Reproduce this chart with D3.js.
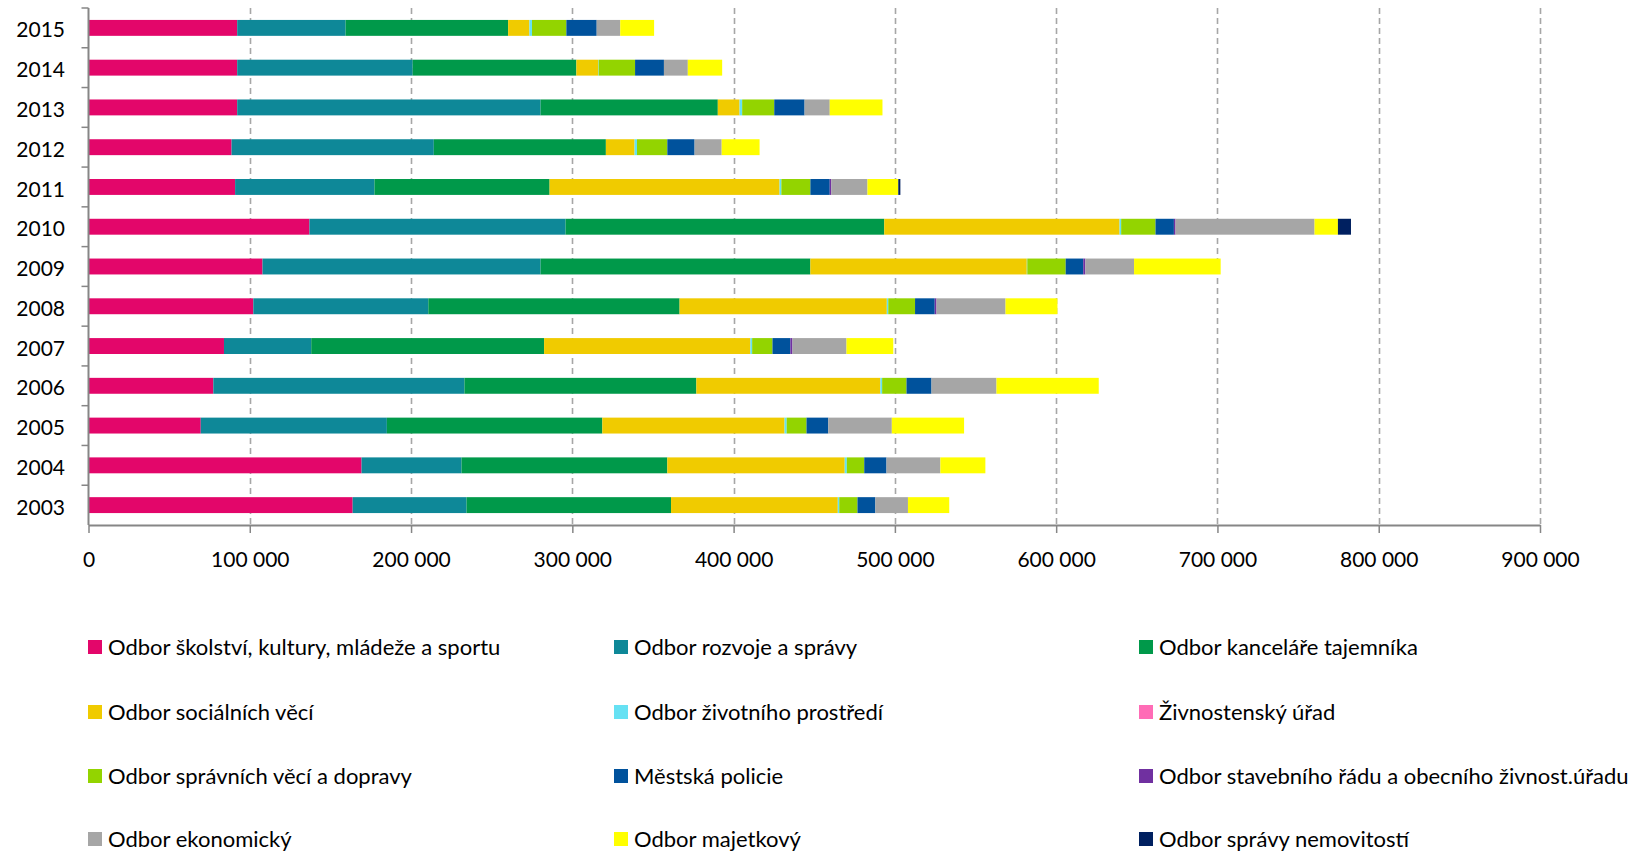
<!DOCTYPE html>
<html><head><meta charset="utf-8">
<script src="https://cdn.jsdelivr.net/npm/d3@7"></script>
<style>
html,body{margin:0;padding:0;background:#fff;}
text{font-family:Lato,"Open Sans",sans-serif;fill:#000;}
</style></head>
<body>
<svg id="chart" width="1639" height="853"></svg>
<script>
// Years, top to bottom
const years = ["2015","2014","2013","2012","2011","2010","2009","2008","2007","2006","2005","2004","2003"];
const seriesNames = [
  "Odbor školství, kultury, mládeže a sportu",
  "Odbor rozvoje a správy",
  "Odbor kanceláře tajemníka",
  "Odbor sociálních věcí",
  "Odbor životního prostředí",
  "Živnostenský úřad",
  "Odbor správních věcí a dopravy",
  "Městská policie",
  "Odbor stavebního řádu a obecního živnost.úřadu",
  "Odbor ekonomický",
  "Odbor majetkový",
  "Odbor správy nemovitostí"
];
const seriesColors = ["#E3066A","#0E8898","#00994A","#F0CB00","#66E1F3","#FF6CB6","#93D400","#00529C","#7030A0","#A6A6A6","#FFFF00","#002060"];
// values per series, in the order of `years`
const skolstvi    = [92200, 92200, 92200, 88700, 90900,137000,107900,102200, 84000, 77400, 69600,169300,163800];
const rozvoje     = [67200,108800,188100,125400, 86400,158800,172400,108500, 54100,155700,115400, 62000, 70600];
const kancelare   = [100800,101500,109900,106700,108600,197600,167300,155800,144400,143800,133600,127600,126800];
const socialni    = [13200, 13500, 13500, 17800,142600,145900,134200,128500,127900,114100,113000,110000,103400];
const zivotni     = [1600,   300,  1600,  1500,  1100,  1000,   300,   900,  1100,  1100,  1300,  1300,   900];
const zivnostensky= [0,        0,     0,     0,     0,     0,     0,     0,     0,     0,     0,     0,     0];
const spravni     = [21300, 22600, 19900, 18800, 18000, 21300, 23800, 16600, 12600, 15100, 12300, 10800, 11300];
const policie     = [18800, 17900, 18800, 16900, 12000, 11400, 10900, 12200, 11100, 15500, 13500, 13800, 11100];
const stavebni    = [0,        0,     0,     0,  1000,  1000,  1300,  1100,  1300,     0,     0,     0,     0];
const ekonomicky  = [14600, 14800, 15600, 16800, 22400, 86200, 30200, 42800, 33500, 40300, 39400, 33400, 20200];
const majetkovy   = [21000, 21300, 32700, 23500, 19100, 14500, 53700, 32200, 29000, 63400, 44800, 27900, 25600];
const nemovitosti = [0,        0,     0,     0,  1300,  8100,     0,     0,     0,     0,     0,     0,     0];
const xTicks = [0,100000,200000,300000,400000,500000,600000,700000,800000,900000];

const seriesValues = [skolstvi,rozvoje,kancelare,socialni,zivotni,zivnostensky,spravni,policie,stavebni,ekonomicky,majetkovy,nemovitosti];
const table = years.map((yr,i)=>{
  const row = {year:yr};
  seriesNames.forEach((n,k)=>row[n]=seriesValues[k][i]);
  return row;
});

const svg = d3.select("#chart");
const mLeft = 88.5, mRight = 1540, mTop = 8, mBottom = 525;
const x = d3.scaleLinear().domain([0,900000]).range([mLeft,mRight]);
const y = d3.scaleBand().domain(years).range([mTop,mBottom]).paddingInner(0.6).paddingOuter(0.3);
const band = d3.scaleBand().domain(years).range([mTop,mBottom]);

// gridlines
svg.append("g").selectAll("line").data(xTicks.slice(1)).join("line")
  .attr("x1",d=>Math.round(x(d))+0.5).attr("x2",d=>Math.round(x(d))+0.5)
  .attr("y1",mTop).attr("y2",mBottom)
  .attr("stroke","#A6A6A6").attr("stroke-width",1.6).attr("stroke-dasharray","6,4");

// bars
const stack = d3.stack().keys(seriesNames);
const stacked = stack(table);
svg.append("g").selectAll("g").data(stacked).join("g")
  .attr("fill",(d,i)=>seriesColors[i])
  .selectAll("rect").data(d=>d).join("rect")
  .attr("x",d=>x(d[0])).attr("width",d=>Math.max(0,x(d[1])-x(d[0])))
  .attr("y",d=>y(d.data.year)).attr("height",y.bandwidth());

// axes
const axisColor = "#868686";
const gx = svg.append("g").attr("transform",`translate(0,${mBottom})`)
  .call(d3.axisBottom(x).tickValues(xTicks).tickSize(8).tickSizeOuter(0)
    .tickFormat(d=>d3.format(",")(d).replace(/,/g," ")));
gx.select(".domain").attr("stroke",axisColor).attr("stroke-width",2);
gx.selectAll(".tick line").attr("stroke",axisColor).attr("stroke-width",1.5);
gx.selectAll(".tick text").attr("dy","0.36em").attr("y",34).attr("font-size",21)
  .style("font-family","Lato").attr("fill","#000");

const gy = svg.append("g").attr("transform",`translate(${mLeft},0)`);
gy.append("line").attr("x1",0).attr("x2",0).attr("y1",mTop).attr("y2",mBottom)
  .attr("stroke",axisColor).attr("stroke-width",2);
gy.selectAll(".bt").data(years).join("line").attr("class","bt")
  .attr("x1",-7).attr("x2",0)
  .attr("y1",d=>band(d)).attr("y2",d=>band(d))
  .attr("stroke",axisColor).attr("stroke-width",1.5);
gy.selectAll("text").data(years).join("text")
  .attr("x",-23.5).attr("y",d=>band(d)+band.bandwidth()/2+2)
  .attr("dy","0.36em").attr("text-anchor","end").attr("font-size",21).text(d=>d);

// legend
const legCols = [88,614,1139], legRows = [647,712,776,839];
const leg = svg.append("g").selectAll("g").data(seriesNames).join("g")
  .attr("transform",(d,i)=>`translate(${legCols[i%3]},${legRows[Math.floor(i/3)]})`);
leg.append("rect").attr("x",0).attr("y",-7).attr("width",14).attr("height",14)
  .attr("fill",(d,i)=>seriesColors[i]);
leg.append("text").attr("x",20).attr("y",0).attr("dy","0.36em").attr("font-size",22).text(d=>d);
</script>
</body></html>
